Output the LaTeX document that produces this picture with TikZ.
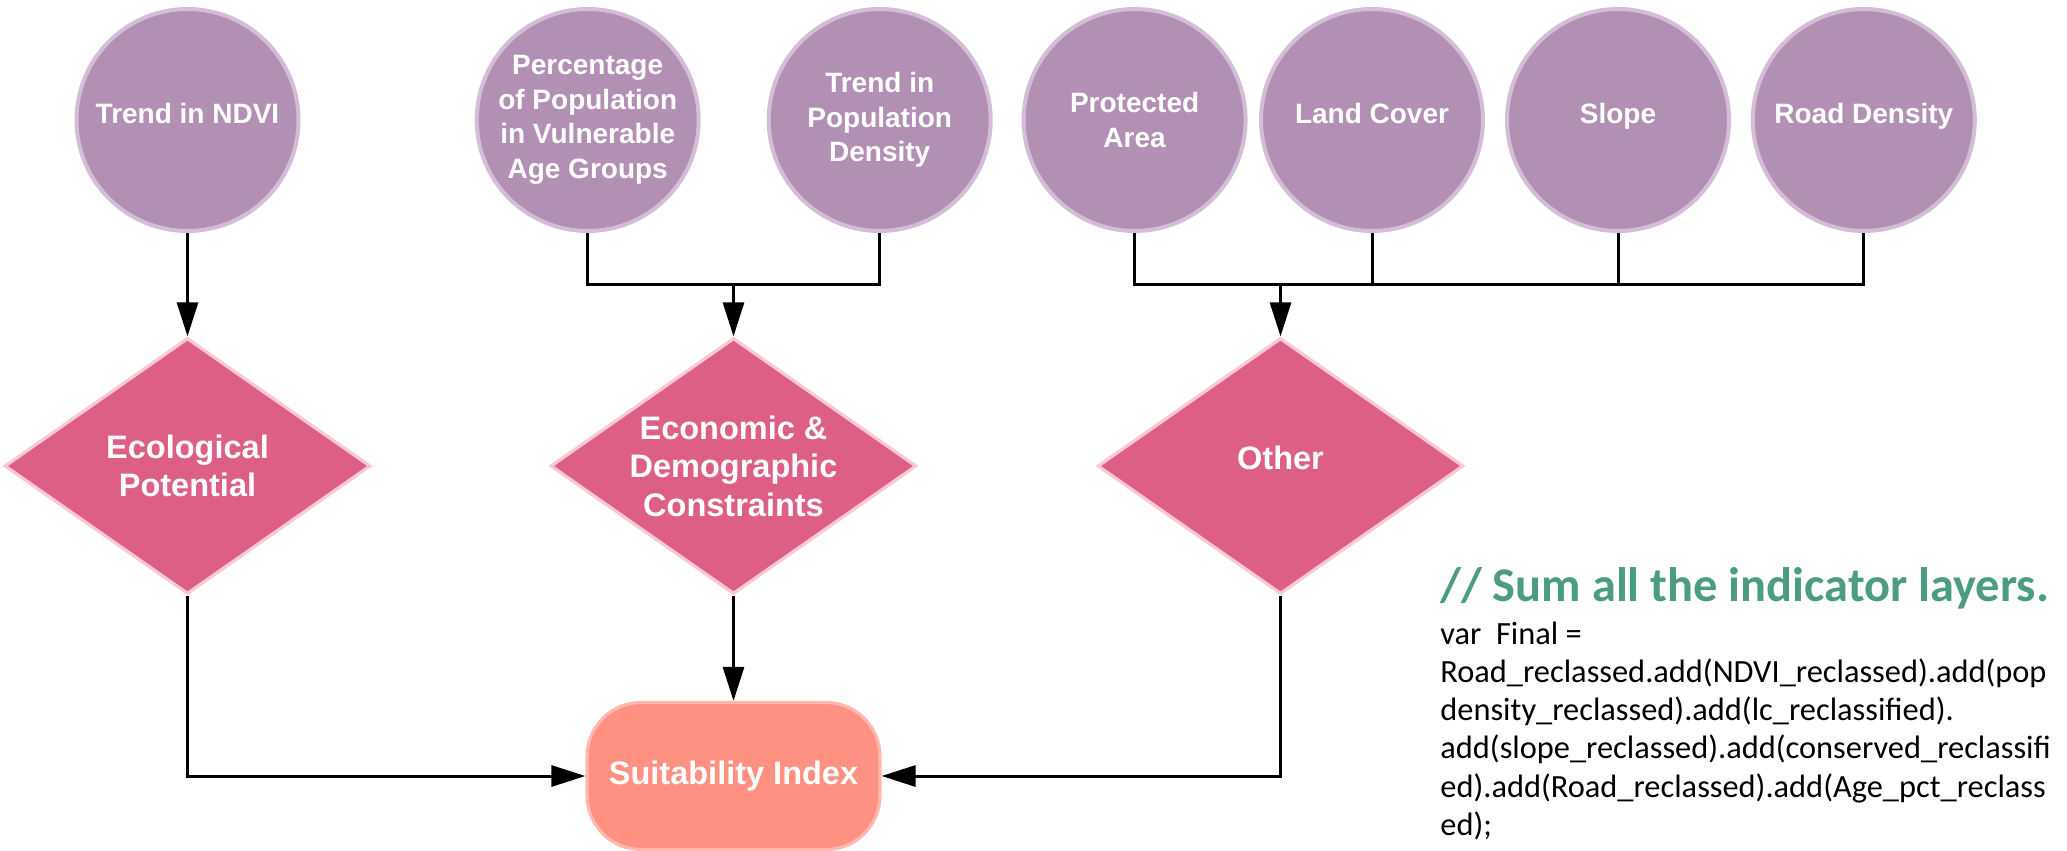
\documentclass[tikz,border=0pt]{standalone}
\usepackage{fontspec}
\setmainfont{Liberation Sans}
\newfontfamily\codefont{Carlito}
\usetikzlibrary{arrows.meta,shapes.geometric}
\definecolor{circfill}{HTML}{B290B4}
\definecolor{circline}{HTML}{D4BDD6}
\definecolor{diafill}{HTML}{DD5F86}
\definecolor{dialine}{HTML}{F8C8D6}
\definecolor{sifill}{HTML}{FE9181}
\definecolor{siline}{HTML}{FFB8AD}
\definecolor{headgreen}{HTML}{4C9D7F}
\tikzset{
  indicator/.style={circle, fill=circfill, draw=circline, line width=2pt,
    minimum size=111pt, inner sep=0pt, align=center, text=white,
    font=\bfseries\fontsize{14}{17.25}\selectfont},
  category/.style={diamond, aspect=1.43, fill=diafill, draw=dialine, line width=1.6pt,
    minimum width=183pt, minimum height=128pt, inner sep=0pt, align=center, text=white,
    font=\bfseries\fontsize{16.25}{19.3}\selectfont},
  oneline/.style={text height=0.8em, text depth=0.45em},
  result/.style={rectangle, rounded corners=27pt, fill=sifill, draw=siline, line width=1.6pt,
    minimum width=146.5pt, minimum height=73.5pt, inner sep=0pt, text=white,
    font=\bfseries\fontsize{16.25}{19.3}\selectfont},
  wire/.style={draw=black, line width=1.5pt},
  arrowed/.style={wire, -{Triangle[length=17pt,width=10.5pt]}},
  heading/.style={inner sep=0pt, anchor=base west, text=headgreen,
    font=\codefont\bfseries\fontsize{24.2}{28}\selectfont},
  codeblock/.style={inner sep=0pt, anchor=base west, align=left, text=black,
    font=\codefont\fontsize{16.2}{19.15}\selectfont}
}
\begin{document}
\begin{tikzpicture}[x=0.5pt,y=-0.5pt]
\useasboundingbox (0,0) rectangle (2067,851);
% indicators
\node[indicator,oneline] (c1) at (187.5,120) {Trend in NDVI};
\node[indicator] (c2) at (587.7,120) {Percentage\\of Population\\in Vulnerable\\Age Groups};
\node[indicator] (c3) at (879.7,120) {Trend in\\Population\\Density};
\node[indicator] (c4) at (1134.6,120) {Protected\\Area};
\node[indicator,oneline] (c5) at (1372,120) {Land Cover};
\node[indicator,oneline] (c6) at (1618,120) {Slope};
\node[indicator,oneline] (c7) at (1863.8,120) {Road Density};
% categories
\node[category] (d1) at (187.5,466) {Ecological\\Potential};
\node[category] (d2) at (733.5,466) {Economic \&\\Demographic\\Constraints};
\node[category,oneline] (d3) at (1280.5,466) {Other};
% result
\node[result] (si) at (733.5,776) {Suitability Index};
% bus points
\coordinate (bus1) at (733.5,284);
\coordinate (bus2) at (1280.5,284);
% connectors
\draw[arrowed] (c1.south) -- (d1.north);
\draw[wire] (c2.south) |- (bus1) -| (c3.south);
\draw[arrowed] (bus1) -- (d2.north);
\draw[wire] (c4.south) |- (bus2) -| (c7.south);
\draw[wire] (c5.south) -- (c5.south |- bus2);
\draw[wire] (c6.south) -- (c6.south |- bus2);
\draw[arrowed] (bus2) -- (d3.north);
\draw[arrowed] (d1.south) |- (si.west);
\draw[arrowed] (d2.south) -- (si.north);
\draw[arrowed] (d3.south) |- (si.east);
% code
\node[heading] (hd) at (1440,601.7) {// Sum all the indicator layers.};
\node[codeblock] (code) at (1440,835.5) {var\ \ Final =\\Road\_reclassed.add(NDVI\_reclassed).add(pop\\density\_reclassed).add(lc\_reclassified).\\add(slope\_reclassed).add(conserved\_reclassifi\\ed).add(Road\_reclassed).add(Age\_pct\_reclass\\ed);};
\end{tikzpicture}
\end{document}
